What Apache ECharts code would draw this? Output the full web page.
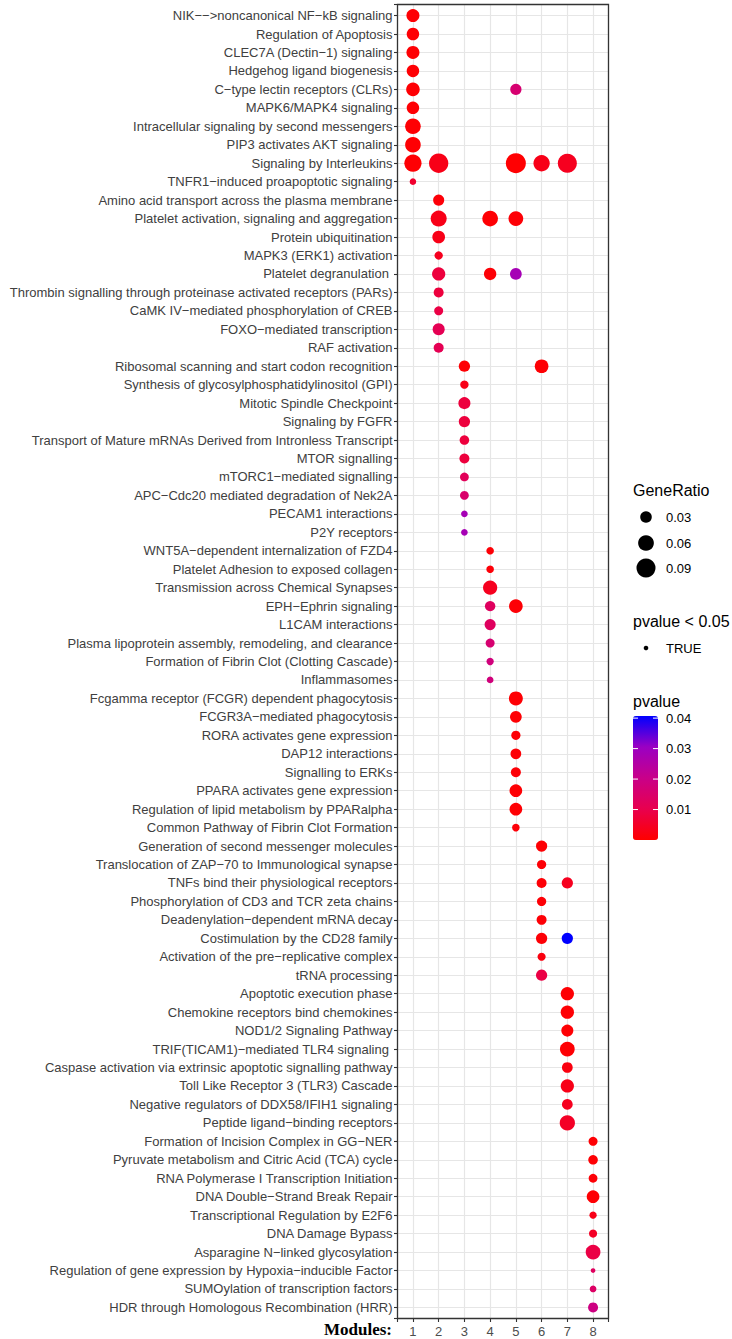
<!DOCTYPE html>
<html>
<head>
<meta charset="utf-8">
<script src="https://cdn.jsdelivr.net/npm/echarts@6/dist/echarts.min.js"></script>
<style>
html,body{margin:0;padding:0;background:#fff;}
#chart{width:732px;height:1339px;}
</style>
</head>
<body>
<div id="chart"></div>
<script>
const pathways = [
"NIK−−>noncanonical NF−kB signaling",
"Regulation of Apoptosis",
"CLEC7A (Dectin−1) signaling",
"Hedgehog ligand biogenesis",
"C−type lectin receptors (CLRs)",
"MAPK6/MAPK4 signaling",
"Intracellular signaling by second messengers",
"PIP3 activates AKT signaling",
"Signaling by Interleukins",
"TNFR1−induced proapoptotic signaling",
"Amino acid transport across the plasma membrane",
"Platelet activation, signaling and aggregation",
"Protein ubiquitination",
"MAPK3 (ERK1) activation",
"Platelet degranulation ",
"Thrombin signalling through proteinase activated receptors (PARs)",
"CaMK IV−mediated phosphorylation of CREB",
"FOXO−mediated transcription",
"RAF activation",
"Ribosomal scanning and start codon recognition",
"Synthesis of glycosylphosphatidylinositol (GPI)",
"Mitotic Spindle Checkpoint",
"Signaling by FGFR",
"Transport of Mature mRNAs Derived from Intronless Transcript",
"MTOR signalling",
"mTORC1−mediated signalling",
"APC−Cdc20 mediated degradation of Nek2A",
"PECAM1 interactions",
"P2Y receptors",
"WNT5A−dependent internalization of FZD4",
"Platelet Adhesion to exposed collagen",
"Transmission across Chemical Synapses",
"EPH−Ephrin signaling",
"L1CAM interactions",
"Plasma lipoprotein assembly, remodeling, and clearance",
"Formation of Fibrin Clot (Clotting Cascade)",
"Inflammasomes",
"Fcgamma receptor (FCGR) dependent phagocytosis",
"FCGR3A−mediated phagocytosis",
"RORA activates gene expression",
"DAP12 interactions",
"Signalling to ERKs",
"PPARA activates gene expression",
"Regulation of lipid metabolism by PPARalpha",
"Common Pathway of Fibrin Clot Formation",
"Generation of second messenger molecules",
"Translocation of ZAP−70 to Immunological synapse",
"TNFs bind their physiological receptors",
"Phosphorylation of CD3 and TCR zeta chains",
"Deadenylation−dependent mRNA decay",
"Costimulation by the CD28 family",
"Activation of the pre−replicative complex",
"tRNA processing",
"Apoptotic execution phase",
"Chemokine receptors bind chemokines",
"NOD1/2 Signaling Pathway",
"TRIF(TICAM1)−mediated TLR4 signaling ",
"Caspase activation via extrinsic apoptotic signalling pathway",
"Toll Like Receptor 3 (TLR3) Cascade",
"Negative regulators of DDX58/IFIH1 signaling",
"Peptide ligand−binding receptors",
"Formation of Incision Complex in GG−NER",
"Pyruvate metabolism and Citric Acid (TCA) cycle",
"RNA Polymerase I Transcription Initiation",
"DNA Double−Strand Break Repair",
"Transcriptional Regulation by E2F6",
"DNA Damage Bypass",
"Asparagine N−linked glycosylation",
"Regulation of gene expression by Hypoxia−inducible Factor",
"SUMOylation of transcription factors",
"HDR through Homologous Recombination (HRR)"
];

const modules = ["1","2","3","4","5","6","7","8"];

// one entry per dot: row (1-based index into pathways), module, GeneRatio, pvalue
const dotRow = [1,2,3,4,5,5,6,7,8,9,9,9,9,9,10,11,12,12,12,13,14,15,15,15,16,17,18,19,
  20,20,21,22,23,24,25,26,27,28,29,30,31,32,33,33,34,35,36,37,38,39,40,41,42,43,44,45,
  46,47,48,48,49,50,51,51,52,53,54,55,56,57,58,59,60,61,62,63,64,65,66,67,68,69,70,71];
const dotModule = [1,1,1,1,1,5,1,1,1,1,2,5,6,7,1,2,2,4,5,2,2,2,4,5,2,2,2,2,
  3,6,3,3,3,3,3,3,3,3,3,4,4,4,4,5,4,4,4,4,5,5,5,5,5,5,5,5,
  6,6,6,7,6,6,6,7,6,6,7,7,7,7,7,7,7,7,8,8,8,8,8,8,8,8,8,8];
const geneRatio = [0.039,0.036,0.039,0.036,0.043,0.028,0.036,0.059,0.059,0.073,0.093,0.100,0.065,0.090,
  0.006,0.027,0.062,0.059,0.052,0.037,0.013,0.041,0.035,0.031,0.021,0.016,0.033,0.021,
  0.028,0.044,0.013,0.033,0.028,0.019,0.021,0.015,0.015,0.0066,0.0066,
  0.010,0.010,0.048,0.023,0.044,0.027,0.016,0.0087,0.0066,
  0.046,0.031,0.017,0.025,0.021,0.037,0.037,0.010,
  0.028,0.017,0.021,0.028,0.017,0.021,0.028,0.028,0.012,0.028,
  0.041,0.041,0.033,0.052,0.025,0.041,0.025,0.056,
  0.016,0.019,0.015,0.037,0.0087,0.012,0.052,0.0005,0.0066,0.021];
const pValue = [0.0005,0.0005,0.0005,0.0005,0.0005,0.016,0.0005,0.0005,0.0005,0.0005,0.003,0.0002,0.003,0.004,
  0.006,0.001,0.003,0.0005,0.0008,0.003,0.004,0.008,0.0008,0.028,0.008,0.009,0.011,0.011,
  0.0005,0.0005,0.003,0.008,0.008,0.008,0.008,0.012,0.015,0.028,0.028,
  0.0008,0.001,0.004,0.013,0.0008,0.013,0.016,0.018,0.018,
  0.0005,0.0005,0.0008,0.0008,0.0008,0.0005,0.0005,0.001,
  0.0005,0.0008,0.0008,0.004,0.0008,0.0008,0.0008,0.0407,0.002,0.009,
  0.0005,0.0005,0.0005,0.0005,0.002,0.003,0.004,0.005,
  0.0005,0.0005,0.0008,0.0005,0.003,0.005,0.009,0.013,0.014,0.019];

const sizeTicks = [0.03, 0.06, 0.09];
const pTicks = [0.01, 0.02, 0.03, 0.04];
const pMin = 0, pMax = 0.0407;

function dotSize(g) { return Math.sqrt(20 + 3800 * g); }

const data = dotRow.map((r, i) => [dotModule[i], r, geneRatio[i], pValue[i]]);

const FONT = "'Liberation Sans', Arial, sans-serif";
const bar = {x: 633, y: 716, w: 25, h: 124};
const graphics = [];
graphics.push({type:'text', left: 633, top: 482, style:{text:'GeneRatio', font:"16px " + FONT, fill:'#000'}});
const sizeY = [517, 543, 568];
sizeTicks.forEach((v, i) => {
  graphics.push({type:'circle', shape:{cx:646, cy:sizeY[i], r:dotSize(v)/2}, style:{fill:'#000'}});
  graphics.push({type:'text', x:666, y:sizeY[i], style:{text:v.toFixed(2), font:"13px " + FONT, fill:'#000', verticalAlign:'middle'}});
});
graphics.push({type:'text', left: 633, top: 613, style:{text:'pvalue < 0.05', font:"16px " + FONT, fill:'#000'}});
graphics.push({type:'circle', shape:{cx:646, cy:648, r:2.3}, style:{fill:'#000'}});
graphics.push({type:'text', x:666, y:648, style:{text:'TRUE', font:"13px " + FONT, fill:'#000', verticalAlign:'middle'}});
graphics.push({type:'text', left: 633, top: 693, style:{text:'pvalue', font:"16px " + FONT, fill:'#000'}});
pTicks.forEach(v => {
  const y = bar.y + bar.h - (v - pMin) / (pMax - pMin) * bar.h;
  graphics.push({type:'line', z:100, shape:{x1:bar.x, y1:y, x2:bar.x+5, y2:y}, style:{stroke:'#fff', lineWidth:1}});
  graphics.push({type:'line', z:100, shape:{x1:bar.x+bar.w-5, y1:y, x2:bar.x+bar.w, y2:y}, style:{stroke:'#fff', lineWidth:1}});
  graphics.push({type:'text', x:666, y:y, style:{text:v.toFixed(2), font:"13px " + FONT, fill:'#000', verticalAlign:'middle'}});
});

const chart = echarts.init(document.getElementById('chart'), null, {renderer:'svg'});
chart.setOption({
  animation: false,
  backgroundColor: '#fff',
  title: {
    text: 'Modules:', right: 340, top: 1321, padding: 0,
    textStyle: {fontFamily: "'Liberation Serif', 'Times New Roman', serif", fontWeight: 'bold', fontSize: 17, color: '#000'}
  },
  grid: {
    left: 397.5, right: 123.5, top: 4.5, bottom: 20.5,
    show: true, z: 1, backgroundColor: 'transparent', borderColor: '#333', borderWidth: 1.3
  },
  xAxis: {
    type: 'value', min: 0.4, max: 8.6, splitNumber: 8, minInterval: 1, maxInterval: 1,
    axisLine: {show: false},
    axisTick: {show: true, length: 3.5, lineStyle: {color: '#333', width: 1.1}},
    splitLine: {show: true, lineStyle: {color: '#E6E6E6', width: 1.2}},
    axisLabel: {
      fontFamily: FONT, fontSize: 13, color: '#4D4D4D', margin: 6,
      formatter: v => (Math.abs(v - Math.round(v)) < 1e-6 ? modules[Math.round(v) - 1] : '')
    }
  },
  yAxis: {
    type: 'value', min: 0.4, max: 71.6, inverse: true, splitNumber: 71, minInterval: 1, maxInterval: 1,
    axisLine: {show: false},
    axisTick: {show: true, length: 3.5, lineStyle: {color: '#333', width: 1.1}},
    splitLine: {show: true, lineStyle: {color: '#E6E6E6', width: 1.2}},
    axisLabel: {
      fontFamily: FONT, fontSize: 13, color: '#404040', margin: 5,
      formatter: v => (Math.abs(v - Math.round(v)) < 1e-6 ? pathways[Math.round(v) - 1] : '')
    }
  },
  visualMap: {
    type: 'continuous', dimension: 3, min: pMin, max: pMax,
    left: bar.x, top: bar.y, itemWidth: bar.w, itemHeight: bar.h, padding: 0,
    calculable: false, hoverLink: false, text: null, seriesIndex: 0,
    inRange: {color: ['#FF0000', '#E8004E', '#C90089', '#9A00C3', '#0000FF']}
  },
  series: [{
    type: 'scatter', data: data, z: 3,
    symbol: 'circle',
    symbolSize: d => dotSize(d[2]),
    itemStyle: {opacity: 1, borderWidth: 0}
  }],
  graphic: graphics
});
</script>
</body>
</html>
